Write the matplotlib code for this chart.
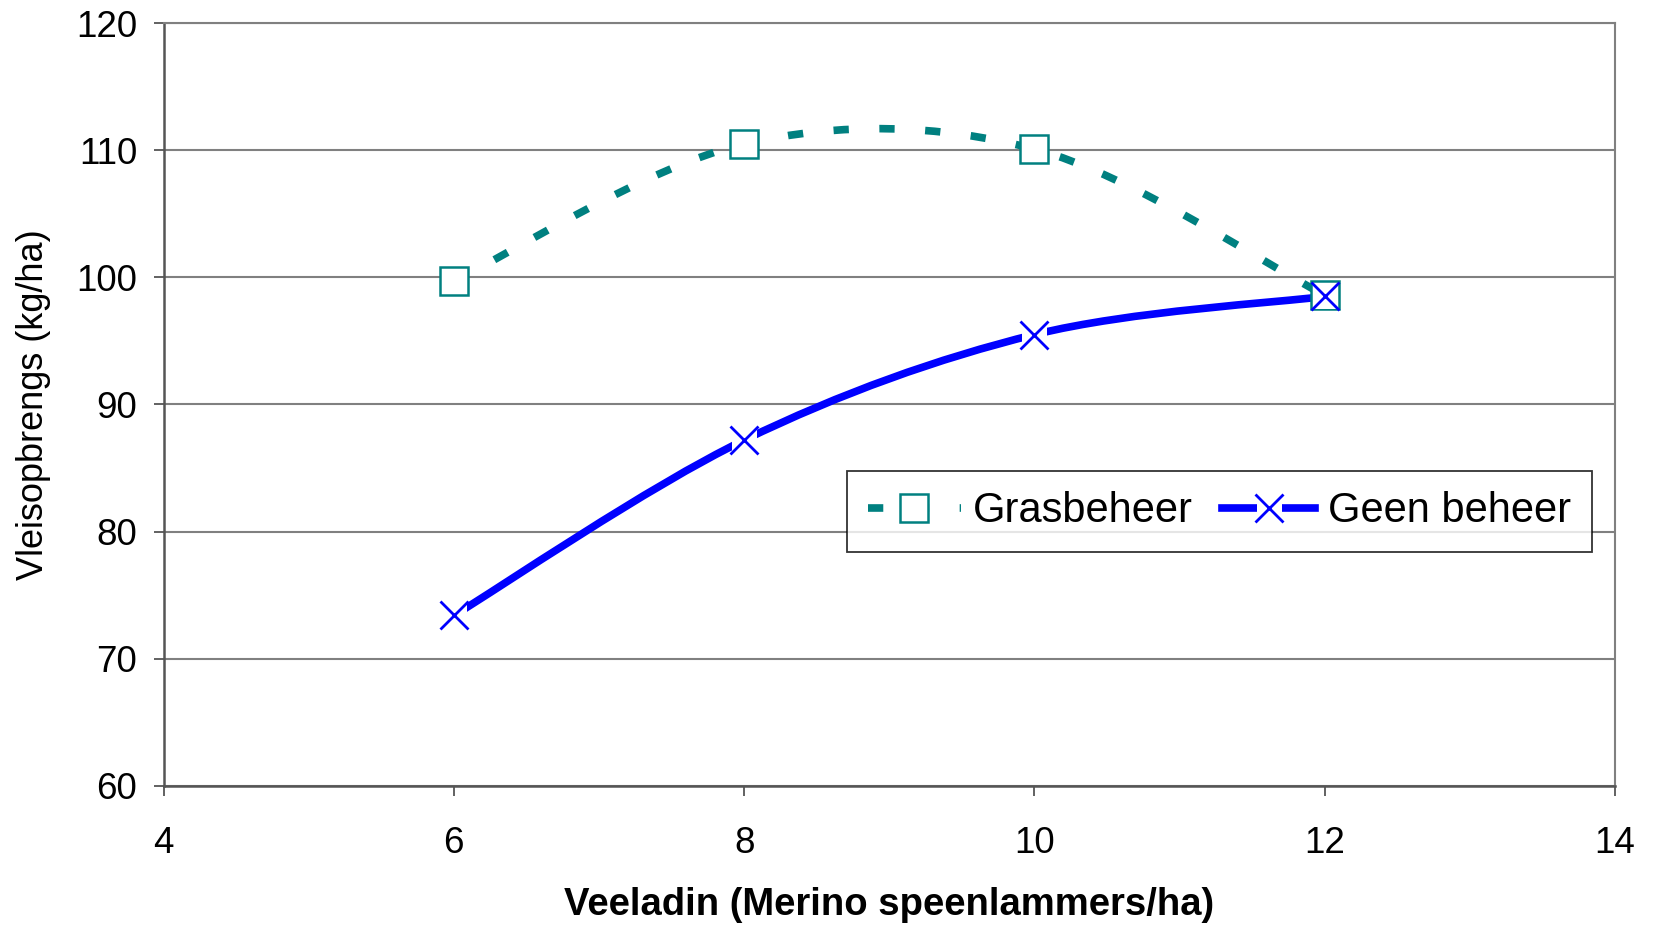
import matplotlib
matplotlib.use("Agg")
import matplotlib.pyplot as plt
from matplotlib.path import Path
from matplotlib.patches import PathPatch
from matplotlib.lines import Line2D
from matplotlib.legend_handler import HandlerTuple

# ---- data ----
x_vals = [6, 8, 10, 12]
grasbeheer = [99.7, 110.5, 110.1, 98.6]
geen_beheer = [73.4, 87.2, 95.5, 98.5]
series_names = ["Grasbeheer", "Geen beheer"]
x_ticks = [4, 6, 8, 10, 12, 14]
y_ticks = [60, 70, 80, 90, 100, 110, 120]
x_label = "Veeladin (Merino speenlammers/ha)"
y_label = "Vleisopbrengs (kg/ha)"

TEAL = "#008080"
BLUE = "#0000FF"

plt.rcParams["font.family"] = ["Liberation Sans", "DejaVu Sans"]


def smooth_path(xs, ys):
    """Excel-style smoothed line: cubic Bezier segments (Catmull-Rom tangents)."""
    pts = list(zip(xs, ys))
    n = len(pts)
    verts = [pts[0]]
    codes = [Path.MOVETO]
    for i in range(n - 1):
        p0 = pts[i - 1] if i > 0 else pts[i]
        p1 = pts[i]
        p2 = pts[i + 1]
        p3 = pts[i + 2] if i + 2 < n else pts[i + 1]
        c1 = (p1[0] + (p2[0] - p0[0]) / 6.0, p1[1] + (p2[1] - p0[1]) / 6.0)
        c2 = (p2[0] - (p3[0] - p1[0]) / 6.0, p2[1] - (p3[1] - p1[1]) / 6.0)
        verts += [c1, c2, p2]
        codes += [Path.CURVE4] * 3
    return Path(verts, codes)


fig = plt.figure(figsize=(16.54, 9.27), dpi=100)
ax = fig.add_axes([0.0989, 0.1523, 0.8775, 0.8227])

ax.set_xlim(4, 14)
ax.set_ylim(60, 120)
ax.set_xticks(x_ticks)
ax.set_yticks(y_ticks)

ax.grid(axis="y", color="#808080", lw=1.5, zorder=0)
ax.set_axisbelow(True)

LW = 5.5
dash = (0, (2.0, 4.0))

# Grasbeheer: dashed smooth curve
p1 = PathPatch(smooth_path(x_vals, grasbeheer), fill=False, edgecolor=TEAL,
               lw=LW, linestyle=dash, capstyle="butt", zorder=3)
ax.add_patch(p1)
# Geen beheer: solid smooth curve
p2 = PathPatch(smooth_path(x_vals, geen_beheer), fill=False, edgecolor=BLUE,
               lw=LW, linestyle="-", capstyle="butt", zorder=3)
ax.add_patch(p2)

MS = 20
ax.plot(x_vals, grasbeheer, ls="none", marker="s", ms=MS, mfc="white",
        mec=TEAL, mew=1.8, zorder=4)
ax.plot(x_vals, geen_beheer, ls="none", marker="s", ms=MS - 2, mfc="white",
        mec="none", mew=0, zorder=5)
ax.plot(x_vals, geen_beheer, ls="none", marker="x", ms=MS, mec=BLUE,
        mew=2.0, zorder=6)

# spines
for s in ["top", "right"]:
    ax.spines[s].set_color("#808080")
    ax.spines[s].set_linewidth(1.5)
for s in ["left", "bottom"]:
    ax.spines[s].set_color("#555555")
    ax.spines[s].set_linewidth(1.8)

ax.tick_params(axis="both", direction="out", length=7, width=1.3,
               color="#555555", labelsize=26.5)
ax.tick_params(axis="y", pad=12)
ax.tick_params(axis="x", pad=22)

ax.set_xlabel(x_label, fontsize=27.5, fontweight="bold")
ax.set_ylabel(y_label, fontsize=26)
ax.xaxis.set_label_coords(0.5, -0.1563)
ax.yaxis.set_label_coords(-0.0899, 0.5)
ax.xaxis.label.set_va("center")
ax.yaxis.label.set_va("center")

# legend
h1 = Line2D([], [], color=TEAL, lw=LW, linestyle=dash, dash_capstyle="butt",
            marker="s", ms=MS, mfc="white", mec=TEAL, mew=1.8)
h2a = Line2D([], [], color=BLUE, lw=LW, marker="s", ms=MS - 2, mfc="white",
             mec="none", mew=0)
h2b = Line2D([], [], ls="none", marker="x", ms=MS, mec=BLUE, mew=2.0)
leg = ax.legend([h1, (h2a, h2b)], series_names, ncol=2, loc="center",
                bbox_to_anchor=(0.7275, 0.3597), fontsize=30,
                handlelength=2.23, handletextpad=0.3, columnspacing=0.7,
                borderpad=0.5, borderaxespad=0, frameon=True, fancybox=False,
                handler_map={tuple: HandlerTuple(ndivide=1)})
leg.get_frame().set_edgecolor("black")
leg.get_frame().set_linewidth(1.3)
leg.set_zorder(10)

fig.savefig("out.png", dpi=100)
